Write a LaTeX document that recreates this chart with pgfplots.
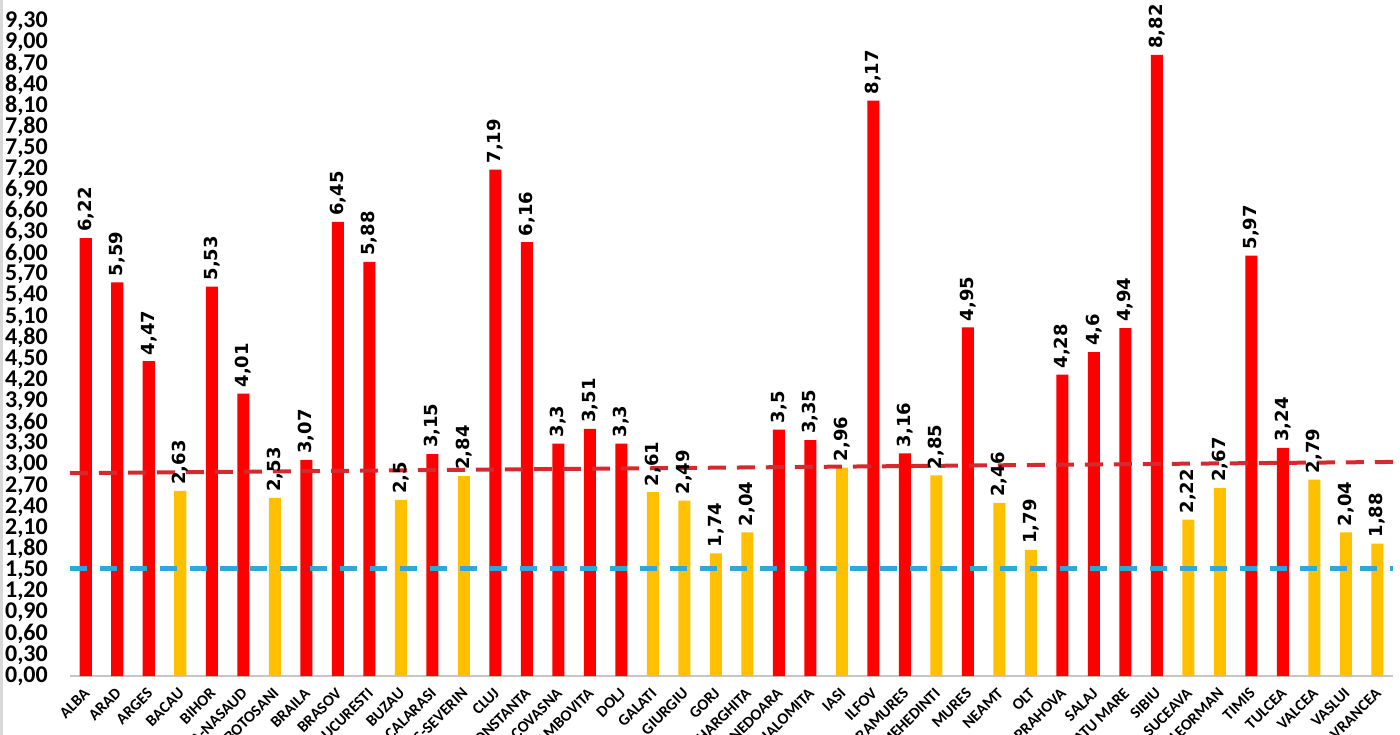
\documentclass[border=0pt]{standalone}
\usepackage{fontspec}
\setmainfont{Carlito}
\newfontfamily\dejavu{DejaVu Sans}
\usepackage{pgfplots}
\pgfplotsset{compat=1.18}
\definecolor{barred}{HTML}{FF0000}
\definecolor{baryel}{HTML}{FFC000}
\definecolor{lred}{HTML}{D42A2F}
\definecolor{lcyan}{HTML}{2EA7D9}
\begin{document}
\begin{tikzpicture}
\begin{axis}[
  at={(70bp,59bp)}, anchor=south west, scale only axis,
  width=1323bp, height=676bp,
  xmin=-0.5, xmax=41.5, ymin=0, ymax=9.6,
  axis x line*=bottom, axis y line*=left,
  x axis line style={draw=gray!45, line width=1.2bp, -},
  y axis line style={draw=none},
  major tick length=0pt,
  ytick={0,0.3,0.6,0.9,1.2,1.5,1.8,2.1,2.4,2.7,3.0,3.3,3.6,3.9,4.2,4.5,4.8,5.1,5.4,5.7,6.0,6.3,6.6,6.9,7.2,7.5,7.8,8.1,8.4,8.7,9.0,9.3},
  /pgf/number format/assume math mode=true,
  yticklabel style={font=\fontsize{24bp}{28bp}\selectfont\bfseries, inner xsep=0pt, xshift=-22bp,
    /pgf/number format/.cd, fixed, fixed zerofill, precision=2, use comma},
  xtick={0,...,41},
  xticklabels={ALBA,ARAD,ARGES,BACAU,BIHOR,BISTRITA-NASAUD,BOTOSANI,BRAILA,BRASOV,BUCURESTI,BUZAU,CALARASI,CARAS-SEVERIN,CLUJ,CONSTANTA,COVASNA,DAMBOVITA,DOLJ,GALATI,GIURGIU,GORJ,HARGHITA,HUNEDOARA,IALOMITA,IASI,ILFOV,MARAMURES,MEHEDINTI,MURES,NEAMT,OLT,PRAHOVA,SALAJ,SATU MARE,SIBIU,SUCEAVA,TELEORMAN,TIMIS,TULCEA,VALCEA,VASLUI,VRANCEA},
  xticklabel style={font=\fontsize{16bp}{18bp}\selectfont\bfseries, xshift=2bp, yshift=-14bp, rotate=45, anchor=east, inner sep=1bp},
  nodes near coords style={rotate=90, anchor=west, inner xsep=6bp, inner ysep=0pt, black,
    font=\dejavu\bfseries\fontsize{18bp}{20bp}\selectfont,
    /pgf/number format/.cd, fixed, precision=2, use comma},
  clip=false,
]
\addplot[ybar, bar width=12bp, bar shift=0pt, fill=barred, draw=none, nodes near coords] coordinates {
 (0,6.22) (1,5.59) (2,4.47) (4,5.53) (5,4.01) (7,3.07) (8,6.45) (9,5.88) (11,3.15)
 (13,7.19) (14,6.16) (15,3.3) (16,3.51) (17,3.3) (22,3.5) (23,3.35) (25,8.17) (26,3.16)
 (28,4.95) (31,4.28) (32,4.6) (33,4.94) (34,8.82) (37,5.97) (38,3.24)};
\addplot[ybar, bar width=12bp, bar shift=0pt, fill=baryel, draw=none, nodes near coords] coordinates {
 (3,2.63) (6,2.53) (10,2.5) (12,2.84) (18,2.61) (19,2.49) (20,1.74) (21,2.04) (24,2.96)
 (27,2.85) (29,2.46) (30,1.79) (35,2.22) (36,2.67) (39,2.79) (40,2.04) (41,1.88)};
\addplot[lred, line width=4bp, dash pattern=on 18bp off 11bp, mark=none] coordinates {(-0.5,2.88) (41.5,3.04)};
\addplot[lcyan, line width=4.5bp, dash pattern=on 17bp off 13bp, mark=none] coordinates {(-0.5,1.53) (41.5,1.53)};
\end{axis}
\draw[gray!30, line width=2.5bp] (1.25bp,0) -- (1.25bp,735bp);
\pgfresetboundingbox
\path[use as bounding box] (0,0) rectangle (1400bp,735bp);
\end{tikzpicture}
\end{document}
